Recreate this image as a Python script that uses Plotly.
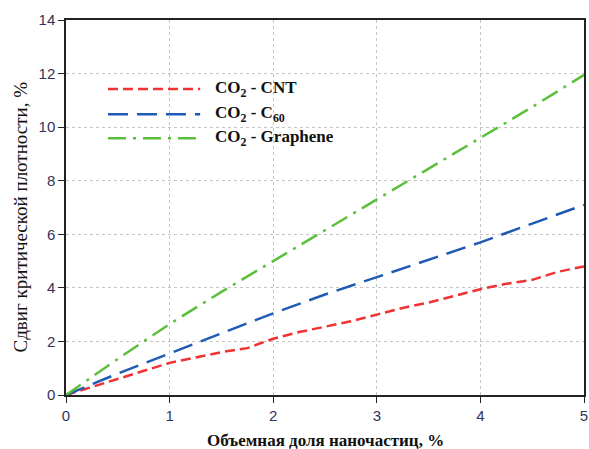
import plotly.graph_objects as go

x_cnt = [0, 0.25, 0.5, 0.75, 1, 1.25, 1.5, 1.75, 2, 2.25, 2.5, 2.75, 3, 3.25, 3.5, 3.75, 4, 4.25, 4.5, 4.75, 5]
y_cnt = [0, 0.3, 0.6, 0.9, 1.2, 1.4, 1.6, 1.75, 2.1, 2.35, 2.55, 2.75, 3.0, 3.25, 3.45, 3.7, 3.95, 4.15, 4.3, 4.6, 4.8]

x_c60 = [0, 0.5, 1, 1.5, 2, 2.5, 3, 3.5, 4, 4.5, 5]
y_c60 = [0, 0.8, 1.55, 2.3, 3.05, 3.75, 4.4, 5.05, 5.7, 6.4, 7.1]

x_gr = [0, 0.5, 1, 1.5, 2, 2.5, 3, 3.5, 4, 4.5, 5]
y_gr = [0, 1.35, 2.65, 3.85, 5.0, 6.15, 7.3, 8.45, 9.6, 10.75, 11.95]

names = ["CO<sub>2</sub> - CNT", "CO<sub>2</sub> - C<sub>60</sub>", "CO<sub>2</sub> - Graphene"]
colors = ["#f03232", "#1f5bb5", "#5cbf3a"]
dashes = ["10px,5px", "20px,9px", "18px,7px,3px,7px"]

x_title = "Объемная доля наночастиц, %"
y_title = "Сдвиг критической плотности, %"

fig = go.Figure()
for xs, ys, n, c, d in zip([x_cnt, x_c60, x_gr], [y_cnt, y_c60, y_gr], names, colors, dashes):
    fig.add_trace(go.Scatter(x=xs, y=ys, mode="lines", name=n,
                             line=dict(color=c, width=2.5, dash=d), showlegend=False))

# custom legend
leg_y = [0.816, 0.749, 0.685]
for n, c, d, yy in zip(names, colors, dashes, leg_y):
    fig.add_shape(type="line", xref="paper", yref="paper", x0=0.081, x1=0.259, y0=yy, y1=yy,
                  line=dict(color=c, width=2.5, dash=d))
    fig.add_annotation(xref="paper", yref="paper", x=0.284, y=yy, text="<b>" + n + "</b>",
                       showarrow=False, xanchor="left", yanchor="middle",
                       font=dict(family="Liberation Serif", size=17, color="#111"))

# axis titles
fig.add_annotation(xref="paper", yref="paper", x=0.5, y=0, yshift=-45, text="<b>" + x_title + "</b>",
                   showarrow=False, xanchor="center", yanchor="middle",
                   font=dict(family="Liberation Serif", size=17, color="#111"))
fig.add_annotation(xref="paper", yref="paper", x=0, xshift=-46, y=0.5, yshift=-10, text=y_title,
                   showarrow=False, xanchor="center", yanchor="middle", textangle=-90,
                   font=dict(family="Liberation Serif", size=19, color="#111"))

fig.update_layout(
    width=589, height=449,
    margin=dict(l=66, r=5, t=20, b=54, autoexpand=False),
    plot_bgcolor="white", paper_bgcolor="white",
)
common = dict(showline=True, linecolor="#222", linewidth=1.5, mirror=True, ticks="outside", ticklen=6,
              tickcolor="#222", showgrid=True, gridcolor="#c4c4c4", griddash="dot", gridwidth=1,
              zeroline=False, automargin=False,
              tickfont=dict(family="Liberation Sans", size=15, color="#33335a"))
fig.update_xaxes(range=[0, 5], tickvals=[0, 1, 2, 3, 4, 5], **common)
fig.update_yaxes(range=[0, 14], tickvals=[0, 2, 4, 6, 8, 10, 12, 14], **common)

fig.write_html("out.html")
